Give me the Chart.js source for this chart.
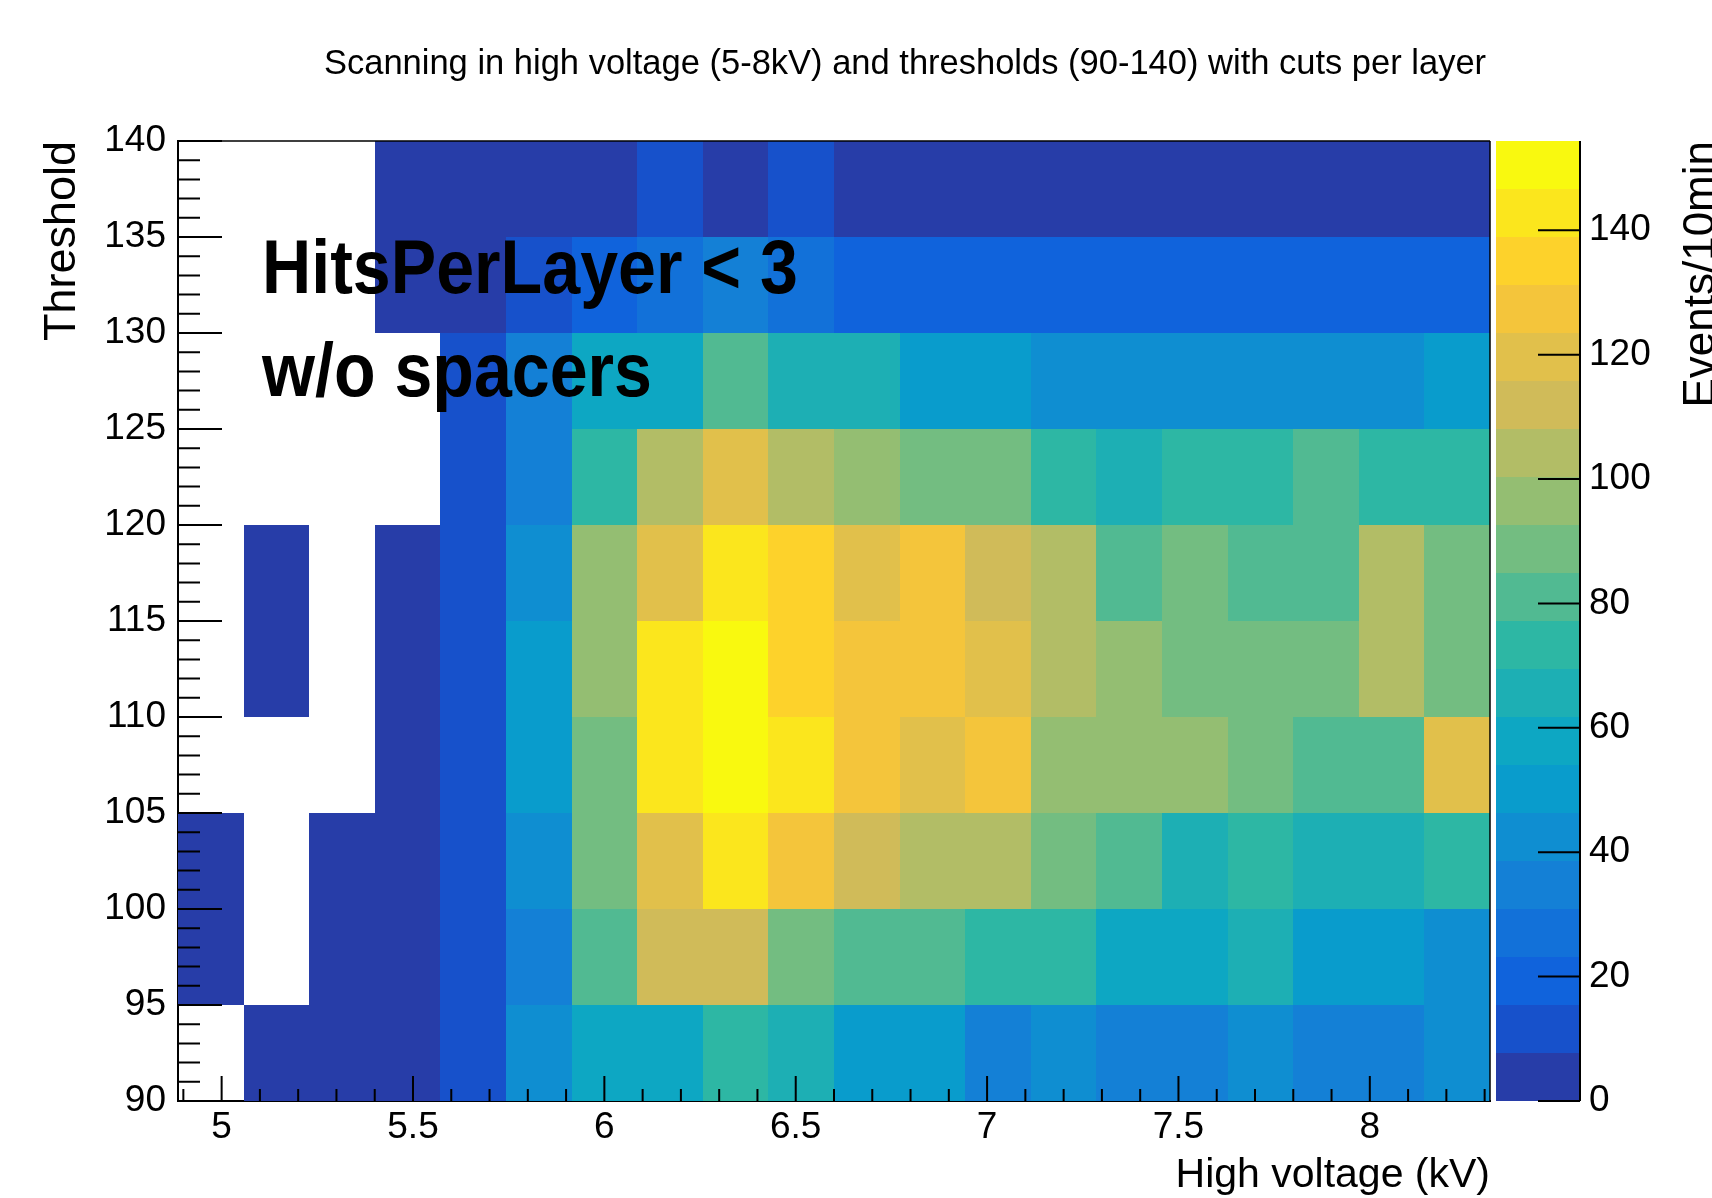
<!DOCTYPE html>
<html>
<head>
<meta charset="utf-8">
<title>HV / threshold scan</title>
<script src="https://cdn.jsdelivr.net/npm/chart.js@4.4.1/dist/chart.umd.min.js"></script>
<style>
  html, body { margin: 0; padding: 0; background: #fff; }
  #scan { display: block; }
</style>
</head>
<body>
<canvas id="scan" width="1712" height="1198"></canvas>
<script>
// scan HV x threshold, events / 10 min per bin
// one array per threshold bin (lower edge), 20 HV bins each, 0 = empty bin

const hvMin = 4.886;
const hvMax = 8.314;
const nHvBins = 20;
const thresholds = [90, 95, 100, 105, 110, 115, 120, 125, 130, 135];
const thrStep = 5;

const thr090 = [0, 2, 3, 4, 11, 43, 57, 58, 73, 66, 51, 49, 34, 42, 36, 33, 41, 35, 33, 44];
const thr095 = [1, 0, 3, 5, 12, 35, 80, 111, 113, 88, 82, 80, 74, 72, 58, 56, 65, 50, 49, 43];
const thr100 = [2, 0, 4, 5, 13, 42, 88, 121, 142, 128, 112, 104, 102, 87, 81, 65, 72, 66, 64, 74];
const thr105 = [0, 0, 0, 4, 14, 51, 89, 144, 147, 140, 127, 119, 129, 97, 95, 96, 90, 81, 79, 118];
const thr110 = [0, 2, 0, 5, 13, 50, 96, 141, 147, 135, 126, 128, 121, 104, 98, 89, 87, 88, 103, 86];
const thr115 = [0, 3, 0, 6, 14, 44, 97, 120, 143, 136, 119, 127, 113, 105, 82, 88, 80, 83, 106, 90];
const thr120 = [0, 0, 0, 0, 10, 34, 72, 104, 120, 106, 97, 89, 90, 73, 67, 75, 71, 81, 74, 72];
const thr125 = [0, 0, 0, 0, 9, 33, 57, 56, 79, 68, 65, 51, 49, 43, 41, 42, 40, 43, 41, 50];
const thr130 = [0, 0, 0, 3, 6, 13, 20, 26, 32, 28, 19, 20, 18, 19, 21, 18, 20, 19, 17, 18];
const thr135 = [0, 0, 0, 2, 3, 2, 4, 9, 3, 8, 2, 3, 1, 2, 3, 2, 1, 2, 3, 2];

const counts = [thr090, thr095, thr100, thr105, thr110, thr115, thr120, thr125, thr130, thr135];

const plotTitle = "Scanning in high voltage (5-8kV) and thresholds (90-140) with cuts per layer";
const noteLines = ["HitsPerLayer < 3", "w/o spacers"];

// ROOT-like z range: max * 1.05, 20 contour levels
const zMax = Math.max(...counts.flat()) * 1.05;
const nContours = 20;

// kBird palette
const birdStops = [0.0, 0.125, 0.25, 0.375, 0.5, 0.625, 0.75, 0.875, 1.0];
const birdR = [0.2082, 0.0592, 0.0780, 0.0232, 0.1802, 0.5301, 0.8186, 0.9956, 0.9764];
const birdG = [0.1664, 0.3599, 0.5041, 0.6419, 0.7178, 0.7492, 0.7328, 0.7862, 0.9832];
const birdB = [0.5293, 0.8684, 0.8385, 0.7914, 0.6425, 0.4662, 0.3499, 0.1968, 0.0539];

function bird(pos) {
  let k = 0;
  while (k < birdStops.length - 2 && pos > birdStops[k + 1]) k++;
  const t = (pos - birdStops[k]) / (birdStops[k + 1] - birdStops[k]);
  const mix = (a) => Math.round(255 * (a[k] + (a[k + 1] - a[k]) * t));
  return `rgb(${mix(birdR)},${mix(birdG)},${mix(birdB)})`;
}

function bandColor(ic) {
  const idx = Math.floor((ic + 0.99) * 255 / nContours);
  return bird(idx / 255);
}

function zColor(v) {
  const ic = Math.min(nContours - 1, Math.floor(v * nContours / zMax));
  return bandColor(ic);
}

const labelFont = { family: '"Liberation Sans", Arial, Helvetica, sans-serif', size: 37 };

const heatmap = {
  id: 'heatmap',
  beforeDatasetsDraw(chart) {
    const { ctx, scales: { x, y } } = chart;
    const w = (hvMax - hvMin) / nHvBins;
    ctx.save();
    counts.forEach((row, j) => {
      const yTop = Math.round(y.getPixelForValue(thresholds[j] + thrStep));
      const yBot = Math.round(y.getPixelForValue(thresholds[j]));
      row.forEach((v, i) => {
        if (!v) return;
        const x0 = Math.round(x.getPixelForValue(hvMin + i * w));
        const x1 = Math.round(x.getPixelForValue(hvMin + (i + 1) * w));
        ctx.fillStyle = zColor(v);
        ctx.fillRect(x0, yTop, x1 - x0, yBot - yTop);
      });
    });
    ctx.restore();
  },
  afterDraw(chart) {
    const { ctx, chartArea: a, scales: { x, y, z } } = chart;
    ctx.save();
    ctx.strokeStyle = '#000';
    ctx.lineCap = 'butt';

    // frame top / right
    ctx.lineWidth = 1.5;
    ctx.beginPath();
    ctx.moveTo(a.left, a.top); ctx.lineTo(a.right, a.top);
    ctx.moveTo(a.right, a.top); ctx.lineTo(a.right, a.bottom);
    ctx.stroke();

    // inward ticks, y every 1 (major every 5)
    ctx.lineWidth = 2;
    ctx.beginPath();
    for (let t = 90; t <= 140; t++) {
      const py = y.getPixelForValue(t);
      const len = t % 5 === 0 ? 44 : 22;
      ctx.moveTo(a.left, py); ctx.lineTo(a.left + len, py);
    }
    // x every 0.1 kV (major every 0.5)
    for (let k = 49; k <= 83; k++) {
      const px = x.getPixelForValue(k / 10);
      const len = k % 5 === 0 ? 25 : 12;
      ctx.moveTo(px, a.bottom); ctx.lineTo(px, a.bottom - len);
    }
    ctx.stroke();

    // palette
    const cbLeft = 1496, cbRight = 1580;
    for (let ic = 0; ic < nContours; ic++) {
      const y0 = Math.round(z.getPixelForValue(ic * zMax / nContours));
      const y1 = Math.round(z.getPixelForValue((ic + 1) * zMax / nContours));
      ctx.fillStyle = bandColor(ic);
      ctx.fillRect(cbLeft, y1, cbRight - cbLeft, y0 - y1);
    }
    ctx.lineWidth = 2;
    ctx.beginPath();
    ctx.moveTo(cbRight, z.top); ctx.lineTo(cbRight, z.bottom);
    z.ticks.forEach(t => {
      const py = z.getPixelForValue(t.value);
      ctx.moveTo(cbRight - 42, py); ctx.lineTo(cbRight, py);
    });
    ctx.stroke();

    ctx.fillStyle = '#000';
    ctx.textBaseline = 'alphabetic';

    // palette title
    ctx.save();
    ctx.font = '44px "Liberation Sans", Arial, sans-serif';
    ctx.translate(1714, a.top);
    ctx.rotate(-Math.PI / 2);
    ctx.textAlign = 'right';
    ctx.fillText('Events/10min', 0, 0);
    ctx.restore();

    // histogram title
    ctx.font = '34.5px "Liberation Sans", Arial, sans-serif';
    ctx.textAlign = 'center';
    ctx.fillText(plotTitle, 905, 74);

    // cut label
    ctx.font = 'bold 76px "Liberation Sans", Arial, sans-serif';
    ctx.textAlign = 'left';
    ctx.fillText(noteLines[0], 262, 293, 536);
    ctx.fillText(noteLines[1], 262, 396, 390);

    ctx.restore();
  }
};

new Chart(document.getElementById('scan'), {
  type: 'scatter',
  data: { datasets: [] },
  options: {
    responsive: false,
    animation: false,
    devicePixelRatio: 1,
    events: [],
    layout: { padding: { left: 0, right: 0, top: 141, bottom: 0 } },
    plugins: { legend: { display: false }, tooltip: { enabled: false }, title: { display: false } },
    scales: {
      x: {
        type: 'linear',
        position: 'bottom',
        min: hvMin,
        max: hvMax,
        z: 1,
        grid: { display: false, drawTicks: false },
        border: { display: true, color: '#000', width: 2 },
        ticks: {
          stepSize: 0.5,
          includeBounds: false,
          autoSkip: false,
          maxRotation: 0,
          padding: 5,
          color: '#000',
          font: labelFont,
          callback: v => (v % 1 === 0 ? String(v) : v.toFixed(1))
        },
        title: {
          display: true,
          text: 'High voltage (kV)',
          align: 'end',
          color: '#000',
          font: { family: labelFont.family, size: 41 },
          padding: { top: 0, bottom: -2 }
        },
        afterFit: s => { s.height = 97; }
      },
      y: {
        type: 'linear',
        position: 'left',
        min: 90,
        max: 140,
        z: 1,
        grid: { display: false, drawTicks: false },
        border: { display: true, color: '#000', width: 2 },
        ticks: {
          stepSize: 5,
          autoSkip: false,
          padding: 12,
          color: '#000',
          font: labelFont
        },
        title: {
          display: true,
          text: 'Threshold',
          align: 'end',
          color: '#000',
          font: { family: labelFont.family, size: 45 },
          padding: { top: 36, bottom: 0 }
        },
        afterFit: s => { s.width = 178; s.paddingTop = 0; s.paddingBottom = 0; }
      },
      z: {
        type: 'linear',
        axis: 'y',
        position: 'right',
        min: 0,
        max: zMax,
        z: 1,
        grid: { display: false, drawTicks: false },
        border: { display: false },
        ticks: {
          stepSize: 20,
          includeBounds: false,
          autoSkip: false,
          padding: 99,
          color: '#000',
          font: labelFont
        },
        // labels sit right of the palette box; keep the large label offset out of the layout padding
        afterFit: s => { s.width = 222; s.paddingTop = 0; s.paddingBottom = 0; }
      }
    }
  },
  plugins: [heatmap]
});
</script>
</body>
</html>
